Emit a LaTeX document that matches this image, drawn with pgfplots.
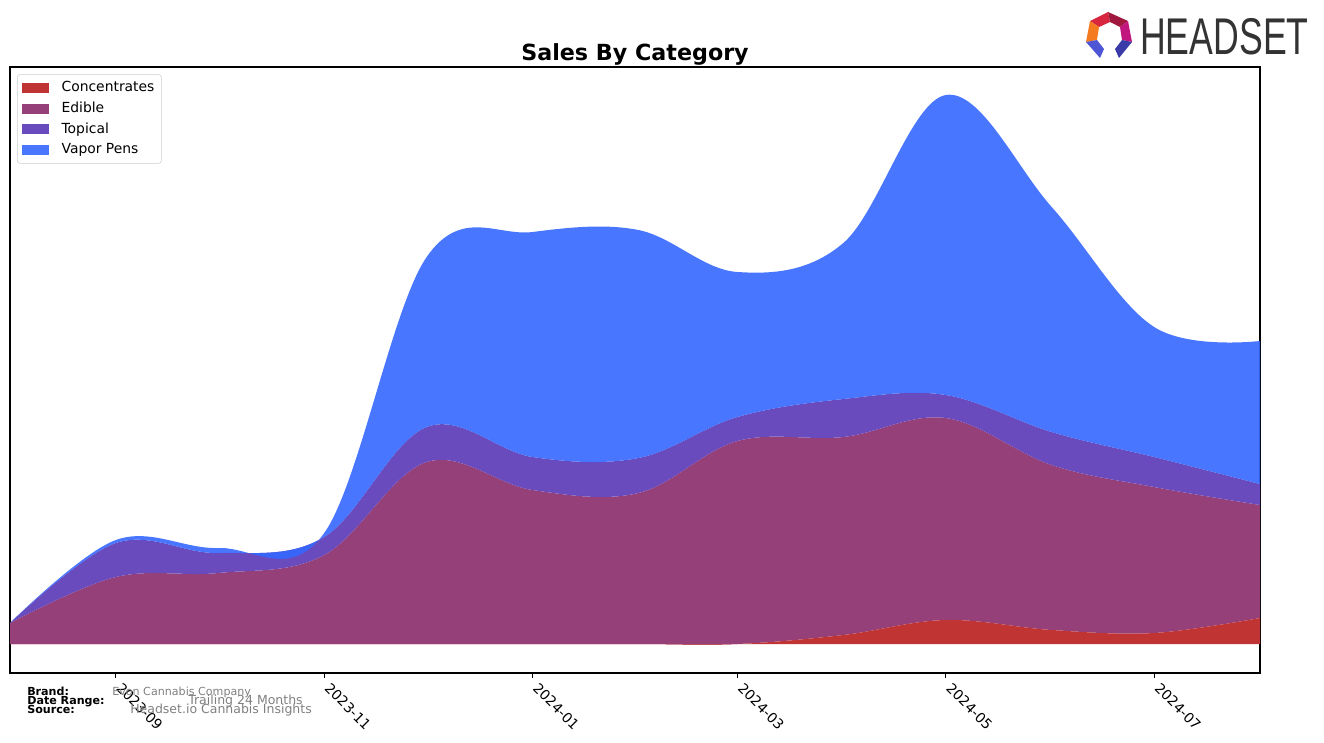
\documentclass[border=0pt]{standalone}
\usepackage{pgfplots}
\pgfplotsset{compat=1.18}
\usepgfplotslibrary{fillbetween}
\usepackage{pgfplotstable}
\usepackage{fontspec}
\setmainfont{DejaVu Sans}
\newfontfamily\logofont{Liberation Sans}

\definecolor{conc}{HTML}{C13434}
\definecolor{edib}{HTML}{96407A}
\definecolor{topi}{HTML}{6A4BBE}
\definecolor{vapo}{HTML}{3467FF}
\definecolor{vapoL}{HTML}{4876FF}

% d = days since 2023-08-01 (first of each month)
\pgfplotstableread{
d conc edible topical vapor
0 0 21 0 0
31 0 67 34 3
61 0 71 20 5
92 0 89 18 4
122 0 182 35 170
153 0 154 33 225
184 0 151 35 228
213 0 203 24 145
244 9 198 38 156
274 24 202 23 300
305 14 165 33 225
335 11 146 30 130
366 26 113 21 143
}\sales

\begin{document}
\begin{tikzpicture}
\path (0,0) rectangle (953.28pt,-534.96pt);
\begin{axis}[
  at={(7.2pt,-48.24pt)}, anchor=north west,
  width=900pt, height=436.32pt, scale only axis,
  xmin=0, xmax=366, ymin=-29, ymax=577,
  xtick={31,92,153,213,274,335},
  xticklabels={2023-09,2023-11,2024-01,2024-03,2024-05,2024-07},
  ytick=\empty,
  xtick pos=lower,
  tick align=outside,
  major tick length=3.5pt,
  every tick/.style={black, line width=0.8pt},
  axis line style={line width=0.8pt},
  xticklabel style={xshift=5pt, rotate=-45, anchor=north west, inner sep=2pt, font=\fontsize{10}{12}\selectfont},
  legend style={at={(0.0056,0.988)}, anchor=north west, draw=black!20, rounded corners=2pt,
    font=\fontsize{10}{12}\selectfont, row sep=2.5pt, inner xsep=3.5pt, inner ysep=3.2pt,
    nodes={inner sep=1.5pt, text height=7.5pt, text depth=2pt},
    /tikz/every odd column/.append style={column sep=7.5pt}},
  legend cell align=left,
  legend image code/.code={\fill[#1, draw=none, sharp corners] (0pt,-3.6pt) rectangle (19.4pt,3.6pt);},
]
\addplot[draw=none, smooth, tension=0.6, name path=c, forget plot] table[x=d, y=conc]{\sales};
\addplot[draw=none, smooth, tension=0.6, name path=e, forget plot] table[x=d, y expr=\thisrow{conc}+\thisrow{edible}]{\sales};
\addplot[draw=none, smooth, tension=0.6, name path=t, forget plot] table[x=d, y expr=\thisrow{conc}+\thisrow{edible}+\thisrow{topical}]{\sales};
\addplot[draw=none, smooth, tension=0.6, name path=v, forget plot] table[x=d, y expr=\thisrow{conc}+\thisrow{edible}+\thisrow{topical}+\thisrow{vapor}]{\sales};
\addplot[fill=conc, draw=none, smooth, tension=0.6, forget plot] table[x=d, y=conc]{\sales} \closedcycle;
\addplot[fill=edib, draw=none, forget plot] fill between[of=e and c];
\addplot[fill=topi, draw=none, forget plot] fill between[of=t and e];
\addplot[fill=vapo, fill opacity=0.9, draw=none, forget plot] fill between[of=v and t];
\addlegendimage{fill=conc}
\addlegendentry{Concentrates}
\addlegendimage{fill=edib}
\addlegendentry{Edible}
\addlegendimage{fill=topi}
\addlegendentry{Topical}
\addlegendimage{fill=vapoL}
\addlegendentry{Vapor Pens}
\end{axis}
\begin{scope}[x=0.72pt, y=-0.72pt]
\node[font=\fontsize{16}{19}\selectfont\bfseries, inner sep=0] at (635,54) {Sales By Category};
\node[anchor=base west, inner sep=0, font=\fontsize{8}{9}\selectfont\bfseries] at (27,695) {Brand:};
\node[anchor=base west, inner sep=0, font=\fontsize{8}{9}\selectfont\bfseries] at (27,704) {Date Range:};
\node[anchor=base west, inner sep=0, font=\fontsize{8}{9}\selectfont\bfseries] at (27,713) {Source:};
\node[anchor=base west, inner sep=0, text=gray, font=\fontsize{8}{9}\selectfont] at (112,695) {Evon Cannabis Company};
\node[anchor=base west, inner sep=0, text=gray, font=\fontsize{9}{10}\selectfont] at (188,704.5) {Trailing 24 Months};
\node[anchor=base west, inner sep=0, text=gray, font=\fontsize{9}{10}\selectfont] at (130,713.5) {Headset.io Cannabis Insights};
\fill[fill={rgb,255:red,215;green,38;blue,61}] (1090,21) -- (1108,12) -- (1110,22) -- (1099,27) -- cycle;
\fill[fill={rgb,255:red,160;green,24;blue,60}] (1108,12) -- (1128,21) -- (1120,27) -- (1110,22) -- cycle;
\fill[fill={rgb,255:red,244;green,123;blue,32}] (1090,21) -- (1099,27) -- (1097,40) -- (1086,42) -- cycle;
\fill[fill={rgb,255:red,194;green,22;blue,127}] (1128,21) -- (1132,42) -- (1122,40) -- (1120,27) -- cycle;
\fill[fill={rgb,255:red,79;green,86;blue,214}] (1086,42) -- (1097,40) -- (1104,49) -- (1100,58) -- cycle;
\fill[fill={rgb,255:red,58;green,58;blue,168}] (1132,42) -- (1122,40) -- (1115,49) -- (1119,58) -- cycle;
\node[anchor=base west, inner sep=0, xscale=0.69, text={rgb,255:red,51;green,51;blue,51}, font=\logofont\fontsize{37.2}{40}\selectfont] at (1140,55) {HEADSET};
\end{scope}
\end{tikzpicture}
\end{document}
